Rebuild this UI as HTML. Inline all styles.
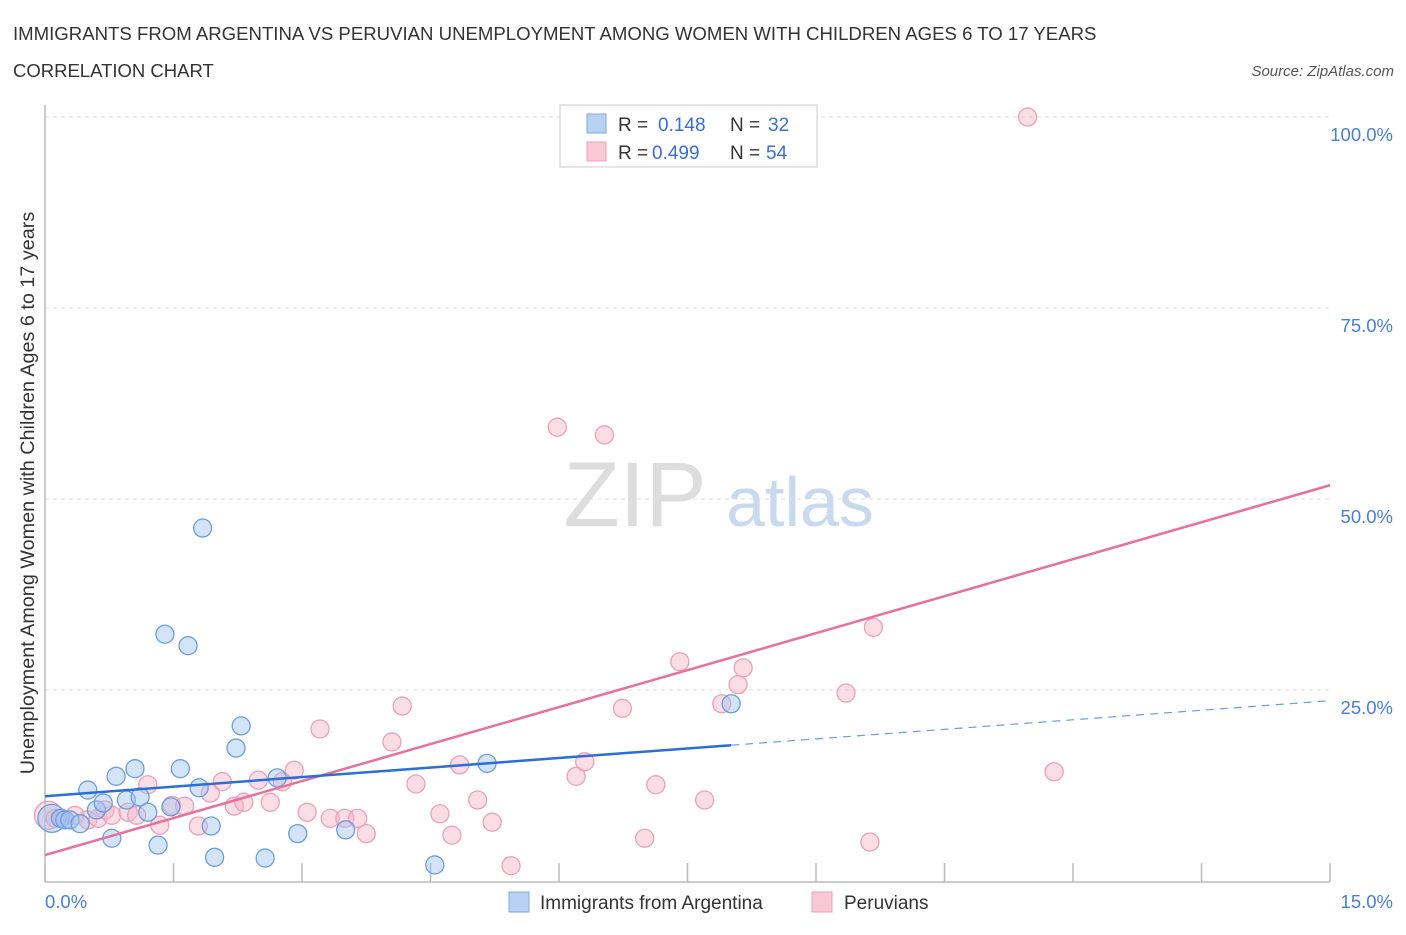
<!DOCTYPE html>
<html><head><meta charset="utf-8"><style>
body{margin:0;background:#fff;font-family:"Liberation Sans",sans-serif;}
svg text{font-family:"Liberation Sans",sans-serif;}
</style></head><body>
<svg id="chart" width="1406" height="930" xmlns="http://www.w3.org/2000/svg">
<text x="13" y="40" font-size="18.6" fill="#333">IMMIGRANTS FROM ARGENTINA VS PERUVIAN UNEMPLOYMENT AMONG WOMEN WITH CHILDREN AGES 6 TO 17 YEARS</text>
<text x="13" y="77" font-size="18.5" fill="#333">CORRELATION CHART</text>
<text x="1394" y="76" font-size="15" font-style="italic" fill="#555" text-anchor="end">Source: ZipAtlas.com</text>
<g>
<text x="635" y="526" font-size="92" font-family="Liberation Serif,serif" fill="#ddd" text-anchor="middle">ZIP</text>
<text x="800" y="526" font-size="70" fill="#c9d9f0" text-anchor="middle">atlas</text>
</g>
<g id="grid"></g>
<g id="axes"></g>
<g id="marks"></g>
<text transform="translate(34,493) rotate(-90)" font-size="19.8" fill="#333" text-anchor="middle">Unemployment Among Women with Children Ages 6 to 17 years</text>
<g>
<rect x="560" y="105" width="257" height="62" fill="#fff" stroke="#ccc"/>
<rect x="587" y="114" width="19" height="19" fill="#b9d1f3" stroke="#7fa8e2"/>
<rect x="587" y="142" width="19" height="19" fill="#f8c8d6" stroke="#eea0b8"/>
<text x="618" y="131" font-size="19" fill="#333">R =</text><text x="658" y="131" font-size="19" fill="#3a6fd0">0.148</text>
<text x="730" y="131" font-size="19" fill="#333">N =</text><text x="768" y="131" font-size="19" fill="#3a6fd0">32</text>
<text x="618" y="159" font-size="19" fill="#333">R =</text><text x="652" y="159" font-size="19" fill="#3a6fd0">0.499</text>
<text x="730" y="159" font-size="19" fill="#333">N =</text><text x="766" y="159" font-size="19" fill="#3a6fd0">54</text>
</g>
<g>
<rect x="509" y="892" width="20" height="20" fill="#b9d1f3" stroke="#7fa8e2"/>
<text x="540" y="909" font-size="19" fill="#333">Immigrants from Argentina</text>
<rect x="812" y="892" width="20" height="20" fill="#f8c8d6" stroke="#eea0b8"/>
<text x="844" y="909" font-size="19" fill="#333">Peruvians</text>
</g>
</svg>
<script>
const yTicks=[25,50,75,100];
const yTickLabels=["25.0%","50.0%","75.0%","100.0%"];
const xTicks=[0,1.5,3,4.5,6,7.5,9,10.5,12,13.5,15];
const blueX=[0.08,0.18,0.23,0.29,0.41,0.50,0.60,0.68,0.78,0.83,0.95,1.05,1.11,1.20,1.32,1.40,1.47,1.58,1.67,1.80,1.84,1.94,1.98,2.23,2.29,2.57,2.71,2.95,3.51,4.55,5.16,8.01];
const blueY=[8.2,8.2,8.0,8.0,7.5,11.9,9.3,10.2,5.6,13.7,10.6,14.7,11.0,9.0,4.7,32.3,9.7,14.7,30.8,12.2,46.2,7.2,3.1,17.4,20.3,3.0,13.5,6.2,6.7,2.1,15.4,23.2];
const pinkX=[0.04,0.12,0.20,0.35,0.50,0.62,0.70,0.78,0.97,1.07,1.20,1.34,1.48,1.63,1.79,1.93,2.07,2.21,2.32,2.49,2.63,2.77,2.91,3.06,3.21,3.33,3.50,3.65,3.75,4.05,4.17,4.33,4.61,4.75,4.84,5.05,5.22,5.44,5.98,6.20,6.30,6.53,6.74,7.00,7.13,7.41,7.70,7.90,8.09,8.15,9.35,9.63,9.67,11.47,11.78];
const pinkY=[8.6,8.2,8.2,8.6,8.0,8.2,9.3,8.6,9.0,8.6,12.6,7.3,9.9,9.8,7.2,11.5,13.0,9.8,10.3,13.2,10.3,13.0,14.5,9.0,19.9,8.2,8.2,8.2,6.2,18.2,22.9,12.7,8.8,6.0,15.2,10.6,7.7,2.0,59.4,13.7,15.6,58.4,22.6,5.6,12.6,28.7,10.6,23.2,25.7,27.9,24.6,5.1,33.2,100.0,14.3];
const blueTrend=[11.1,23.6];
const pinkTrend=[3.4,51.8];
const blueSolidEnd=8.01;

const NS="http://www.w3.org/2000/svg";
const X0=45,X1=1330,Y0=881,Y100=117;
const sx=v=>X0+(v/15)*(X1-X0);
const sy=v=>Y0-(v/100)*(Y0-Y100);
function mk(tag,attrs,parent){const e=document.createElementNS(NS,tag);for(const k in attrs)e.setAttribute(k,attrs[k]);document.getElementById(parent).appendChild(e);return e;}
yTicks.forEach((t,i)=>{
  const g=mk('line',{x1:X0,x2:X1,y1:sy(t),y2:sy(t),stroke:'#ddd','stroke-dasharray':'4,4'},'grid');
  
  
  const l=mk('text',{x:1393,y:sy(t)+24,'font-size':18.5,fill:'#4a7fd6','text-anchor':'end'},'grid');
  
  
  l.textContent=yTickLabels[i];
});
let a=mk('line',{x1:X0,x2:X0,y1:105,y2:882,stroke:'#bbb','stroke-width':1.5},'axes');


a=mk('line',{x1:X0,x2:X1,y1:882,y2:882,stroke:'#bbb','stroke-width':1.5},'axes');


xTicks.forEach(t=>{const k=mk('line',{x1:sx(t),x2:sx(t),y1:863,y2:882,stroke:'#bbb','stroke-width':1.5},'axes');
  
  });
let xl=mk('text',{x:45,y:908,'font-size':18.5,fill:'#4a7fd6'},'axes');xl.textContent='0.0%';


xl=mk('text',{x:1393,y:908,'font-size':18.5,fill:'#4a7fd6','text-anchor':'end'},'axes');xl.textContent='15.0%';



pinkX.forEach((v,i)=>{const c=mk('circle',{cx:sx(v),cy:sy(pinkY[i]),r:i===0?14:9,fill:'rgba(246,180,200,0.45)',stroke:'#eea0b8','stroke-width':1.3},'marks');
  
  });
blueX.forEach((v,i)=>{const c=mk('circle',{cx:sx(v),cy:sy(blueY[i]),r:i===0?14:9,fill:'rgba(160,195,240,0.45)',stroke:'#6a9ee0','stroke-width':1.3},'marks');
  
  });
const by=x=>blueTrend[0]+(blueTrend[1]-blueTrend[0])*x/15;
let t=mk('line',{x1:sx(0),y1:sy(pinkTrend[0]),x2:sx(15),y2:sy(pinkTrend[1]),stroke:'#e8709a','stroke-width':2.5},'marks');


t=mk('line',{x1:sx(0),y1:sy(by(0)),x2:sx(blueSolidEnd),y2:sy(by(blueSolidEnd)),stroke:'#2a6fd6','stroke-width':2.5},'marks');


t=mk('line',{x1:sx(blueSolidEnd),y1:sy(by(blueSolidEnd)),x2:sx(15),y2:sy(by(15)),stroke:'#6a9ee0','stroke-width':1.2,'stroke-dasharray':'8,6'},'marks');


</script>
</body></html>
